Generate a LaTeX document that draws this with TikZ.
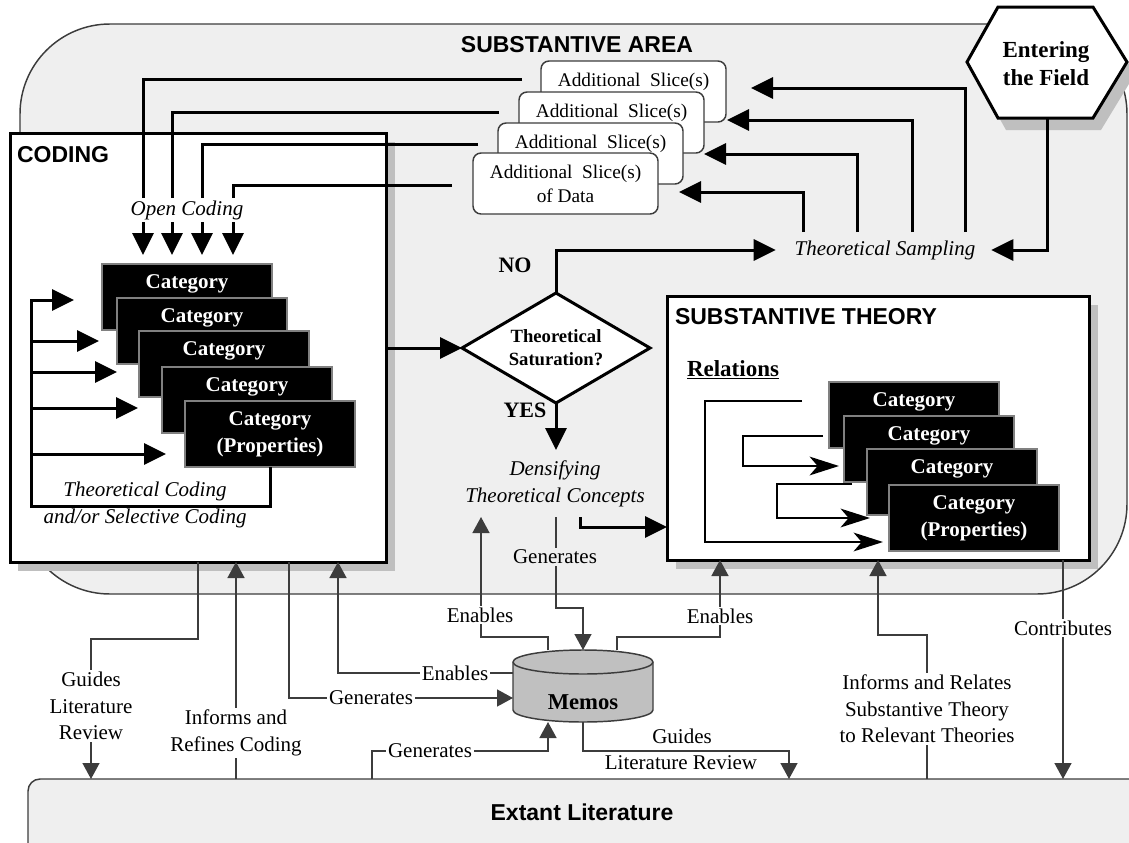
\documentclass[tikz,border=0pt]{standalone}
\usepackage{fontspec}
\setmainfont{Liberation Serif}
\newfontfamily\arialfam{Liberation Sans}
\usetikzlibrary{arrows.meta,shapes.geometric}
\definecolor{areagray}{HTML}{EFEFEF}
\definecolor{shadowgray}{HTML}{BFBFBF}
\definecolor{darkline}{HTML}{3C3C3C}
\definecolor{memogray}{HTML}{C0C0C0}
\begin{document}
\begin{tikzpicture}[x=0.75pt,y=-0.75pt,
 every node/.style={outer sep=0pt},
 lbl/.style={font=\fontsize{15.75pt}{19.9pt}\selectfont, align=center, inner sep=1.5pt},
 wlbl/.style={lbl, fill=white},
 glbl/.style={lbl, fill=areagray},
 ital/.style={font=\itshape\fontsize{15.75pt}{20.25pt}\selectfont, align=center, inner sep=1.5pt},
 sanstitle/.style={font=\arialfam\bfseries\fontsize{17.25pt}{20pt}\selectfont, inner sep=0pt},
 serifbold/.style={font=\bfseries\fontsize{16.5pt}{20pt}\selectfont, inner sep=0pt, align=center},
 bigbox/.style={draw=black, line width=2.25pt, fill=white, inner sep=0pt, anchor=north west},
 cat/.style={draw=gray, line width=0.8pt, fill=black, text=white, font=\bfseries\fontsize{15.75pt}{20.25pt}\selectfont, align=center, minimum width=127.5pt, minimum height=49.5pt, inner sep=0pt, anchor=north west},
 slice/.style={draw=darkline, line width=1.1pt, fill=white, rounded corners=6pt, minimum width=138.75pt, minimum height=45.75pt, inner sep=0pt, anchor=north west, align=center, font=\fontsize{14.5pt}{18pt}\selectfont},
 thickline/.style={line width=2.25pt},
 thickarr/.style={thickline, -{Triangle[length=16.5pt,width=15.75pt]}},
 thinline/.style={line width=1.1pt, draw=darkline},
 thinarr/.style={thinline, -{Triangle[length=12pt,width=12.75pt]}},
 relarr/.style={line width=1.9pt, -{Stealth[length=22pt,width=14pt,inset=6pt]}}
]
\useasboundingbox (0,0) rectangle (1129,843);
\clip (0,0) rectangle (1129,843);

% substantive area
\draw[fill=areagray, draw=darkline, line width=1.1pt, rounded corners=67.5pt] (20,24) rectangle (1127,594);
\node[sanstitle] (areatitle) at (577,45) {SUBSTANTIVE AREA};

% extant literature
\node[draw=darkline, line width=1.1pt, fill=areagray, rounded corners=9pt, anchor=north west, minimum width=849pt, minimum height=75.75pt, inner sep=0pt] (extant) at (28,779) {};
\node[sanstitle] (extanttitle) at (582,812) {Extant Literature};

% entering the field
\fill[shadowgray] (975,74) -- (1006,19) -- (1101,19) -- (1135,74) -- (1101,130) -- (1006,130) -- cycle;
\draw[line width=2.25pt, fill=white] (967,62) -- (998,7) -- (1093,7) -- (1127,62) -- (1093,118) -- (998,118) -- cycle;
\node[serifbold, font=\bfseries\fontsize{17.25pt}{21pt}\selectfont] (field) at (1046,64) {Entering\\the Field};
\coordinate (fieldb) at (1047,118);

% coding box
\fill[shadowgray] (18,142) rectangle (395,571);
\node[bigbox, minimum width=282pt, minimum height=321.75pt] (coding) at (10,133) {};
\node[sanstitle, anchor=west] (codingtitle) at (17,155) {CODING};

% substantive theory box
\fill[shadowgray] (676,305) rectangle (1098,569);
\node[bigbox, minimum width=316.5pt, minimum height=198pt] (theory) at (667,296) {};
\node[sanstitle, anchor=west] (theorytitle) at (675,317) {SUBSTANTIVE THEORY};
\node[serifbold, font=\bfseries\fontsize{17.25pt}{20pt}\selectfont, anchor=west] (relations) at (687,370) {\underline{Relations}};

% coding categories
\node[cat] (c1) at (102,264) {Category\\\phantom{(Properties)}};
\node[cat] (c2) at (117,298) {Category\\\phantom{(Properties)}};
\node[cat] (c3) at (139,331) {Category\\\phantom{(Properties)}};
\node[cat] (c4) at (162,367) {Category\\\phantom{(Properties)}};
\node[cat] (c5) at (185,401) {Category\\(Properties)};

% theory categories
\node[cat] (r1) at (829,382) {Category\\\phantom{(Properties)}};
\node[cat] (r2) at (844,416) {Category\\\phantom{(Properties)}};
\node[cat] (r3) at (867,449) {Category\\\phantom{(Properties)}};
\node[cat] (r4) at (889,485) {Category\\(Properties)};

% slices
\node[slice] (s1) at (541,61) {Additional~~Slice(s)\\\phantom{of Data}};
\node[slice] (s2) at (519,92) {Additional~~Slice(s)\\\phantom{of Data}};
\node[slice] (s3) at (498,123) {Additional~~Slice(s)\\\phantom{of Data}};
\node[slice] (s4) at (473,153) {Additional~~Slice(s)\\of Data};

% diamond
\node[diamond, draw=black, line width=2.25pt, fill=white, minimum width=141pt, minimum height=82.5pt, aspect=1.71, inner sep=0pt, font=\bfseries\fontsize{14pt}{17.25pt}\selectfont, align=center] (sat) at (556,348) {Theoretical\\Saturation?};
\node[serifbold] (no) at (515,265) {NO};
\node[serifbold] (yes) at (525,410) {YES};

% theoretical sampling
\node[ital, inner sep=0pt, minimum height=27pt] (samp) at (885,250) {Theoretical Sampling};

% densifying
\node[ital] (dens) at (555,484) {Densifying\\Theoretical Concepts};
\coordinate (densout) at (580,517);
\coordinate (densin) at (481,517);
\coordinate (densgen) at (556,517);

% memos cylinder
\draw[thinline, fill=memogray] (513,662) -- (513,710) arc[start angle=180, end angle=360, x radius=52.5pt, y radius=9pt] -- (653,662) arc[start angle=0, end angle=180, x radius=52.5pt, y radius=9pt] -- cycle;
\draw[thinline] (513,662) arc[start angle=180, end angle=360, x radius=52.5pt, y radius=9pt];
\node[minimum width=105pt, minimum height=54pt, inner sep=0pt] (memos) at (583,686) {};
\node[serifbold, font=\bfseries\fontsize{17pt}{20pt}\selectfont] (memostext) at (583,702) {Memos};

% ---------- thick connectors ----------
\coordinate (o1) at (522,79);
\coordinate (o2) at (499,112);
\coordinate (o3) at (478,144);
\coordinate (o4) at (452,185);
\draw[thickarr, shorten >=6.75pt] (o1) -| (c1.north -| 143,0);
\draw[thickarr, shorten >=6.75pt] (o2) -| (c1.north -| 172,0);
\draw[thickarr, shorten >=6.75pt] (o3) -| (c1.north -| 202,0);
\draw[thickarr, shorten >=6.75pt] (o4) -| (c1.north -| 233,0);
\node[ital, fill=white, inner sep=2pt] (open) at (187,210) {Open Coding};

% theoretical coding loop
\draw[thickarr] (c5.south -| 270,0) |- (31,506) |- (74,300);
\draw[thickarr] (30,341) -- (99,341);
\draw[thickarr] (30,372) -- (117,372);
\draw[thickarr] (30,408) -- (138,408);
\draw[thickarr] (30,454) -- (166,454);
\node[ital] (theocod) at (145,505) {Theoretical Coding\\and/or Selective Coding};

\draw[thickarr] (coding.east |- sat.west) -- (sat.west);
\draw[thickarr] (sat.north) |- ([xshift=-14.25pt]samp.west);
\draw[thickarr] (fieldb) |- ([xshift=12pt]samp.east);
\draw[thickarr] (samp.north -| 803,0) |- ([xshift=15.75pt]s4.east |- 0,192);
\draw[thickarr] (samp.north -| 857,0) |- ([xshift=15.75pt]s3.east |- 0,154);
\draw[thickarr] (samp.north -| 912,0) |- ([xshift=17.25pt]s2.east |- 0,120);
\draw[thickarr] (samp.north -| 965,0) |- ([xshift=18.75pt]s1.east |- 0,88);
\draw[thickarr] (sat.south) -- ++(0,47);
\draw[thickarr] (densout) |- (theory.west |- 0,527);

% relations
\coordinate (ra) at (802,401);
\coordinate (rb) at (823,436);
\coordinate (rc) at (852,484);
\draw[relarr, shorten >=4.5pt] (ra) -| (705,542) -- (r4.west |- 0,542);
\draw[relarr, shorten >=3.75pt] (rb) -| (743,466) -- (r2.west |- 0,466);
\draw[relarr, shorten >=14.25pt] (rc) -| (777,518) -- (r4.west |- 0,518);

% ---------- thin connectors ----------
\draw[thinarr] (coding.south -| 198,0) |- (91,639) -- (extant.north -| 91,0);
\draw[thinarr] (extant.north -| 236,0) -- (coding.south -| 236,0);
\draw[thinarr] (coding.south -| 289,0) |- (memos.west |- 0,698);
\draw[thinarr] (memos.west |- 0,673) -| (coding.south -| 338,0);
\draw[thinarr] (extant.north -| 372,0) |- (548,751) -- (memos.south -| 548,0);
\draw[thinarr] (memos.north -| 548,0) |- (481,637) -- (densin);
\draw[thinarr] (densgen) |- (583,608) -- (memos.north);
\draw[thinarr] (memos.north -| 617,0) |- (720,637) -- (theory.south -| 720,0);
\draw[thinarr] (memos.south) |- (789,751) -- (extant.north -| 789,0);
\draw[thinarr] (extant.north -| 927,0) |- (878,635) -- (theory.south -| 878,0);
\draw[thinarr] (theory.south -| 1063,0) -- (extant.north -| 1063,0);

% labels
\node[wlbl] (l1) at (91,706) {Guides\\Literature\\Review};
\node[wlbl] (l2) at (236,733) {Informs and\\Refines Coding};
\node[wlbl] (l3) at (371,698) {Generates};
\node[wlbl] (l4) at (455,673) {Enables};
\node[wlbl] (l5) at (430,751) {Generates};
\node[wlbl] (l6) at (480,615) {Enables};
\node[glbl] (l7) at (555,557) {Generates};
\node[wlbl] (l8) at (720,616) {Enables};
\node[lbl] (l9) at (682,736) {Guides};
\node[lbl] (l10) at (681,763) {Literature Review};
\node[wlbl] (l11) at (927,709) {Informs and Relates\\Substantive Theory\\to Relevant Theories};
\node[wlbl] (l12) at (1063,628) {Contributes};
\end{tikzpicture}
\end{document}
